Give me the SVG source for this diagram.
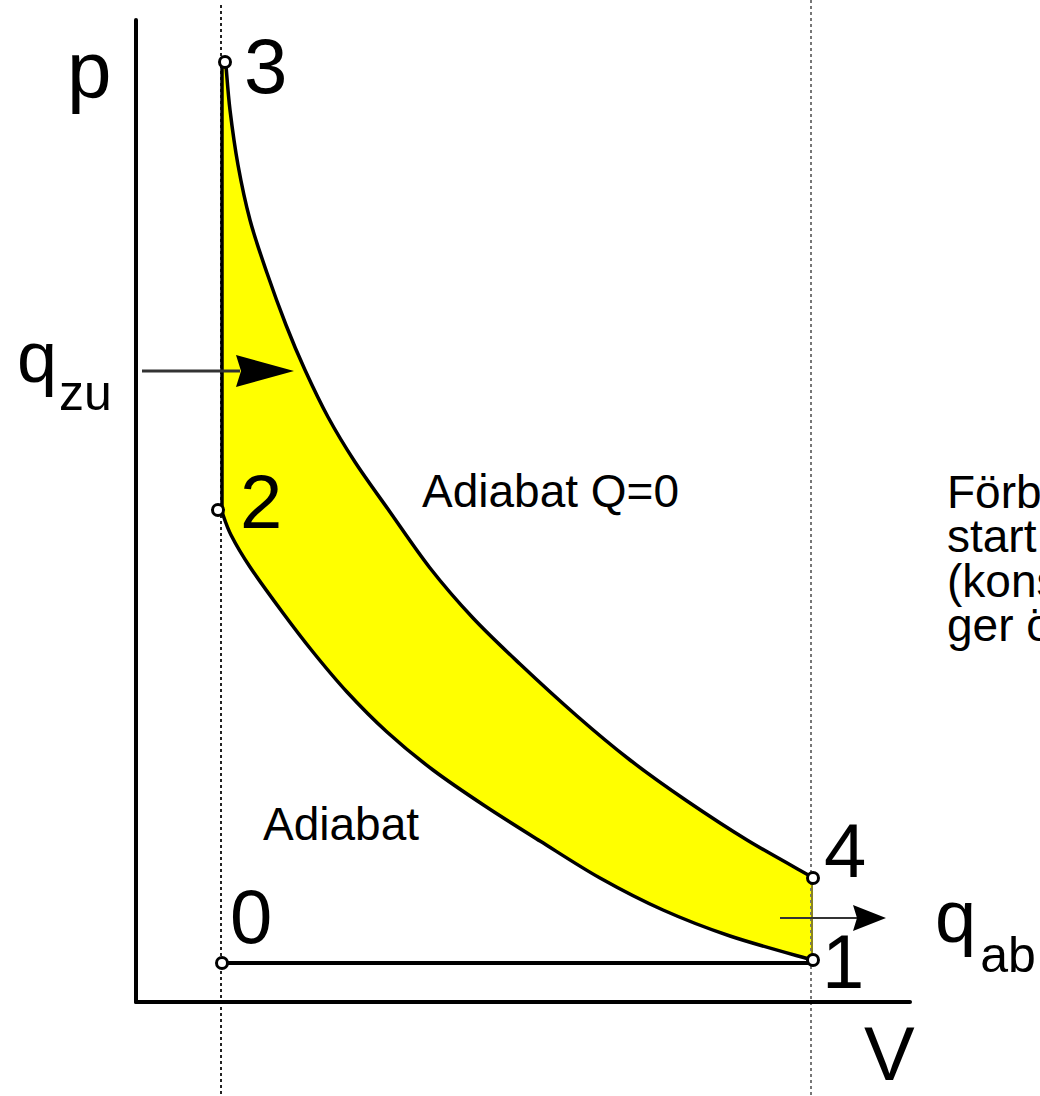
<svg xmlns="http://www.w3.org/2000/svg" width="1040" height="1096" viewBox="0 0 1040 1096">
<style>
.lbl{font-family:"Liberation Sans",Arial,sans-serif;fill:#000}
.big{font-size:76px}
.mid{font-size:46px}
.ln{stroke:#000;fill:none;stroke-linecap:round;stroke-linejoin:round}
.pt{fill:#fff;stroke:#000;stroke-width:3}
</style>
<rect width="1040" height="1096" fill="#fff"/>

<g id="cycle-area">
<path fill="#ffff00" stroke="none" d="M222,62 L226,66 C226.7,73.3 228,93.5 230,110 C232,126.5 234.7,146.7 238,165 C241.3,183.3 245.2,202 250,220 C254.8,238 261,255.5 267,273 C273,290.5 279.7,308.8 286,325 C292.3,341.2 298,354.7 305,370 C312,385.3 319.7,401.7 328,417 C336.3,432.3 344.7,446.2 355,462 C365.3,477.8 377.5,494.3 390,512 C402.5,529.7 416.2,550.3 430,568 C443.8,585.7 458,602 473,618 C488,634 502.7,647.7 520,664 C537.3,680.3 558.7,700 577,716 C595.3,732 611.7,745.8 630,760 C648.3,774.2 667.5,787.7 687,801 C706.5,814.3 726.2,827.3 747,840 C767.8,852.7 801.2,870.8 812,877 L812,963 L222,963 Z"/>
<path fill="#fff" stroke="none" d="M222,512 C223.5,515.8 226.3,525.8 231,535 C235.7,544.2 241.3,554 250,567 C258.7,580 272.5,598.8 283,613 C293.5,627.2 302.3,638.8 313,652 C323.7,665.2 334.7,678.7 347,692 C359.3,705.3 372.7,719 387,732 C401.3,745 416.7,757.7 433,770 C449.3,782.3 467.2,794.2 485,806 C502.8,817.8 520.8,829 540,841 C559.2,853 579.5,866.5 600,878 C620.5,889.5 641.3,900.3 663,910 C684.7,919.7 705.2,927.7 730,936 C754.8,944.3 798.3,956 812,960 L812,963 L222,963 Z"/>
</g>

<g id="guides">
<line x1="221" y1="5" x2="221" y2="1096" stroke="#222" stroke-width="2" stroke-dasharray="3 3"/>
<line x1="811" y1="0" x2="811" y2="1096" stroke="#777" stroke-width="2" stroke-dasharray="3 3"/>
</g>

<g id="axes">
<line class="ln" x1="136" y1="20" x2="136" y2="1002" stroke-width="4" stroke-linecap="square"/>
<line class="ln" x1="136" y1="1002" x2="910" y2="1002" stroke-width="4" stroke-linecap="square"/>
</g>

<g id="connectors">
<path id="adiabat-3-4" class="ln" stroke-width="3.5" d="M226,66 C226.7,73.3 228,93.5 230,110 C232,126.5 234.7,146.7 238,165 C241.3,183.3 245.2,202 250,220 C254.8,238 261,255.5 267,273 C273,290.5 279.7,308.8 286,325 C292.3,341.2 298,354.7 305,370 C312,385.3 319.7,401.7 328,417 C336.3,432.3 344.7,446.2 355,462 C365.3,477.8 377.5,494.3 390,512 C402.5,529.7 416.2,550.3 430,568 C443.8,585.7 458,602 473,618 C488,634 502.7,647.7 520,664 C537.3,680.3 558.7,700 577,716 C595.3,732 611.7,745.8 630,760 C648.3,774.2 667.5,787.7 687,801 C706.5,814.3 726.2,827.3 747,840 C767.8,852.7 801.2,870.8 812,877"/>
<path id="adiabat-2-1" class="ln" stroke-width="3.5" d="M222,512 C223.5,515.8 226.3,525.8 231,535 C235.7,544.2 241.3,554 250,567 C258.7,580 272.5,598.8 283,613 C293.5,627.2 302.3,638.8 313,652 C323.7,665.2 334.7,678.7 347,692 C359.3,705.3 372.7,719 387,732 C401.3,745 416.7,757.7 433,770 C449.3,782.3 467.2,794.2 485,806 C502.8,817.8 520.8,829 540,841 C559.2,853 579.5,866.5 600,878 C620.5,889.5 641.3,900.3 663,910 C684.7,919.7 705.2,927.7 730,936 C754.8,944.3 798.3,956 812,960"/>
<line id="isochor-2-3" class="ln" x1="222" y1="62" x2="222" y2="510" stroke-width="3.5"/>
<line id="isochor-4-1" x1="812" y1="878" x2="812" y2="960" stroke="#8a8420" stroke-width="2"/>
<line id="isobar-0-1" class="ln" x1="222" y1="963" x2="812" y2="963" stroke-width="4"/>
<line id="arrow-qzu" x1="142" y1="371" x2="240" y2="371" stroke="#333" stroke-width="3"/>
<polygon points="236,355 294,371 236,387 241,371" fill="#000"/>
<line id="arrow-qab" x1="780" y1="918" x2="858" y2="918" stroke="#333" stroke-width="2"/>
<polygon points="853,905 886,918 853,931 857,918" fill="#000"/>
</g>

<g id="point-3"><circle class="pt" cx="225" cy="62" r="5.5"/><text class="lbl" x="244" y="93" font-size="78">3</text></g>
<g id="point-2"><circle class="pt" cx="218" cy="510" r="5.5"/><text class="lbl big" x="240" y="528">2</text></g>
<g id="point-4"><circle class="pt" cx="813" cy="878" r="5.5"/><text class="lbl big" x="824" y="877">4</text></g>
<g id="point-1"><circle class="pt" cx="813" cy="960" r="5.5"/><text class="lbl big" x="822" y="988">1</text></g>
<g id="point-0"><circle class="pt" cx="222" cy="963" r="5.5"/><text class="lbl big" x="230" y="943">0</text></g>

<g id="axis-labels">
<text class="lbl" x="67" y="97" font-size="80">p</text>
<text class="lbl big" x="864" y="1080">V</text>
</g>

<g id="heat-labels">
<text class="lbl" x="17" y="382" font-size="72">q<tspan font-size="50" dx="2" dy="28">zu</tspan></text>
<text class="lbl" x="935" y="942" font-size="74">q<tspan font-size="50" dx="4" dy="30">ab</tspan></text>
</g>

<g id="notes">
<text class="lbl mid" x="422" y="507">Adiabat Q=0</text>
<text class="lbl mid" x="263" y="840">Adiabat</text>
<text class="lbl mid" x="947" y="508">Förb</text>
<text class="lbl mid" x="947" y="552">start</text>
<text class="lbl mid" x="947" y="597">(kons</text>
<text class="lbl mid" x="947" y="641">ger ö</text>
</g>
</svg>
